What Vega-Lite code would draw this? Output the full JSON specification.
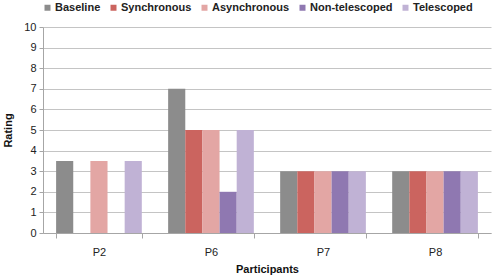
{
  "$schema": "https://vega.github.io/schema/vega-lite/v6.json",
  "width": 448,
  "height": 206,
  "autosize": {"type": "none"},
  "padding": {"left": 43, "top": 27, "right": 3, "bottom": 42},
  "background": "white",
  "config": {
    "font": "Liberation Sans",
    "view": {"stroke": null}
  },
  "data": {
    "values": [
      {"p": "P2", "cond": "Baseline", "v": 3.5},
      {"p": "P2", "cond": "Asynchronous", "v": 3.5},
      {"p": "P2", "cond": "Telescoped", "v": 3.5},
      {"p": "P6", "cond": "Baseline", "v": 7},
      {"p": "P6", "cond": "Synchronous", "v": 5},
      {"p": "P6", "cond": "Asynchronous", "v": 5},
      {"p": "P6", "cond": "Non-telescoped", "v": 2},
      {"p": "P6", "cond": "Telescoped", "v": 5},
      {"p": "P7", "cond": "Baseline", "v": 3},
      {"p": "P7", "cond": "Synchronous", "v": 3},
      {"p": "P7", "cond": "Asynchronous", "v": 3},
      {"p": "P7", "cond": "Non-telescoped", "v": 3},
      {"p": "P7", "cond": "Telescoped", "v": 3},
      {"p": "P8", "cond": "Baseline", "v": 3},
      {"p": "P8", "cond": "Synchronous", "v": 3},
      {"p": "P8", "cond": "Asynchronous", "v": 3},
      {"p": "P8", "cond": "Non-telescoped", "v": 3},
      {"p": "P8", "cond": "Telescoped", "v": 3}
    ]
  },
  "mark": {"type": "bar"},
  "encoding": {
    "x": {
      "field": "p",
      "type": "nominal",
      "title": "Participants",
      "scale": {"paddingInner": 0.235, "paddingOuter": 0.117},
      "axis": {
        "labelAngle": 0,
        "tickBand": "extent",
        "grid": false,
        "domainColor": "#a6a6a6",
        "tickColor": "#a6a6a6",
        "tickSize": 5,
        "labelFontSize": 11,
        "labelColor": "#222222",
        "labelPadding": 8,
        "titleFontSize": 11,
        "titleFontWeight": "bold",
        "titleColor": "#111111",
        "titlePadding": 6
      }
    },
    "xOffset": {
      "field": "cond",
      "type": "nominal",
      "sort": ["Baseline", "Synchronous", "Asynchronous", "Non-telescoped", "Telescoped"],
      "scale": {"domain": ["Baseline", "Synchronous", "Asynchronous", "Non-telescoped", "Telescoped"], "paddingInner": 0, "paddingOuter": 0}
    },
    "y": {
      "field": "v",
      "type": "quantitative",
      "title": "Rating",
      "scale": {"domain": [0, 10], "nice": false},
      "axis": {
        "values": [0,1,2,3,4,5,6,7,8,9,10],
        "labelOverlap": false,
        "gridColor": "#c4c4c4",
        "domainColor": "#a6a6a6",
        "tickColor": "#a6a6a6",
        "tickSize": 4,
        "labelFontSize": 11,
        "labelColor": "#222222",
        "labelPadding": 3,
        "titleFontSize": 11,
        "titleFontWeight": "bold",
        "titleColor": "#111111",
        "titlePadding": 10
      }
    },
    "color": {
      "field": "cond",
      "type": "nominal",
      "title": null,
      "scale": {
        "domain": ["Baseline", "Synchronous", "Asynchronous", "Non-telescoped", "Telescoped"],
        "range": ["#8c8c8c", "#cb645f", "#e3a6a4", "#8f78b1", "#c0b2d5"]
      },
      "legend": {
        "orient": "none",
        "direction": "horizontal",
        "legendX": -1,
        "legendY": -25,
        "symbolType": "square",
        "symbolSize": 36,
        "symbolStrokeWidth": 0,
        "labelFontSize": 11,
        "labelFontWeight": "bold",
        "labelColor": "#222222",
        "labelOffset": 2,
        "columnPadding": 7
      }
    }
  }
}
